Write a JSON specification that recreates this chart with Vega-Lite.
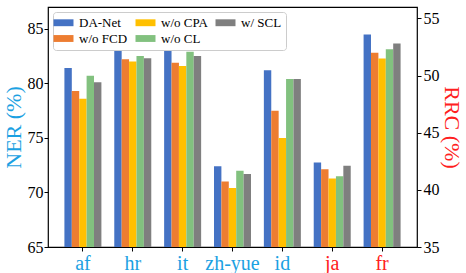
{
  "$schema": "https://vega.github.io/schema/vega-lite/v6.json",
  "width": 369,
  "height": 240,
  "autosize": {"type": "none"},
  "padding": {"left": 48, "top": 7, "right": 49, "bottom": 26},
  "background": "white",
  "config": {
    "font": "Liberation Serif",
    "view": {"stroke": "black", "strokeWidth": 1.2},
    "axis": {"grid": false, "domain": false, "tickColor": "black", "tickSize": 4, "labelColor": "black", "labelFontSize": 16, "labelFont": "Liberation Serif", "titleFont": "Liberation Serif", "titleFontWeight": "normal"}
  },
  "data": {"values": [
    {"lang": "af", "method": "DA-Net", "task": "NER", "value": 81.4},
    {"lang": "af", "method": "w/o FCD", "task": "NER", "value": 79.3},
    {"lang": "af", "method": "w/o CPA", "task": "NER", "value": 78.6},
    {"lang": "af", "method": "w/o CL", "task": "NER", "value": 80.7},
    {"lang": "af", "method": "w/ SCL", "task": "NER", "value": 80.1},
    {"lang": "hr", "method": "DA-Net", "task": "NER", "value": 83.4},
    {"lang": "hr", "method": "w/o FCD", "task": "NER", "value": 82.2},
    {"lang": "hr", "method": "w/o CPA", "task": "NER", "value": 82.0},
    {"lang": "hr", "method": "w/o CL", "task": "NER", "value": 82.5},
    {"lang": "hr", "method": "w/ SCL", "task": "NER", "value": 82.3},
    {"lang": "it", "method": "DA-Net", "task": "NER", "value": 83.2},
    {"lang": "it", "method": "w/o FCD", "task": "NER", "value": 81.9},
    {"lang": "it", "method": "w/o CPA", "task": "NER", "value": 81.6},
    {"lang": "it", "method": "w/o CL", "task": "NER", "value": 82.9},
    {"lang": "it", "method": "w/ SCL", "task": "NER", "value": 82.5},
    {"lang": "zh-yue", "method": "DA-Net", "task": "NER", "value": 72.4},
    {"lang": "zh-yue", "method": "w/o FCD", "task": "NER", "value": 71.0},
    {"lang": "zh-yue", "method": "w/o CPA", "task": "NER", "value": 70.4},
    {"lang": "zh-yue", "method": "w/o CL", "task": "NER", "value": 72.0},
    {"lang": "zh-yue", "method": "w/ SCL", "task": "NER", "value": 71.7},
    {"lang": "id", "method": "DA-Net", "task": "NER", "value": 81.2},
    {"lang": "id", "method": "w/o FCD", "task": "NER", "value": 77.5},
    {"lang": "id", "method": "w/o CPA", "task": "NER", "value": 75.0},
    {"lang": "id", "method": "w/o CL", "task": "NER", "value": 80.4},
    {"lang": "id", "method": "w/ SCL", "task": "NER", "value": 80.4},
    {"lang": "ja", "method": "DA-Net", "task": "RRC", "value": 42.4},
    {"lang": "ja", "method": "w/o FCD", "task": "RRC", "value": 41.8},
    {"lang": "ja", "method": "w/o CPA", "task": "RRC", "value": 41.0},
    {"lang": "ja", "method": "w/o CL", "task": "RRC", "value": 41.2},
    {"lang": "ja", "method": "w/ SCL", "task": "RRC", "value": 42.1},
    {"lang": "fr", "method": "DA-Net", "task": "RRC", "value": 53.6},
    {"lang": "fr", "method": "w/o FCD", "task": "RRC", "value": 52.0},
    {"lang": "fr", "method": "w/o CPA", "task": "RRC", "value": 51.5},
    {"lang": "fr", "method": "w/o CL", "task": "RRC", "value": 52.3},
    {"lang": "fr", "method": "w/ SCL", "task": "RRC", "value": 52.8}
  ]},
  "encoding": {
    "x": {
      "field": "lang", "type": "nominal",
      "sort": ["af", "hr", "it", "zh-yue", "id", "ja", "fr"],
      "scale": {"paddingInner": 0.258, "paddingOuter": 0.329},
      "axis": {"title": null, "labelAngle": 0, "labelFontSize": 20, "labelPadding": 2,
        "labelColor": {"condition": {"test": "datum.value === 'ja' || datum.value === 'fr'", "value": "#ff2020"}, "value": "#1ba1e2"}}
    },
    "xOffset": {
      "field": "method", "type": "nominal",
      "sort": ["DA-Net", "w/o FCD", "w/o CPA", "w/o CL", "w/ SCL"],
      "scale": {"paddingInner": 0, "paddingOuter": 0}
    },
    "color": {
      "field": "method", "type": "nominal",
      "scale": {
        "domain": ["DA-Net", "w/o FCD", "w/o CPA", "w/o CL", "w/ SCL"],
        "range": ["#4472C4", "#ED7D31", "#FFC000", "#82C17F", "#7F7F7F"]
      },
      "legend": {
        "title": null, "orient": "none", "legendX": 5, "legendY": 5, "columns": 3,
        "columnPadding": 7, "rowPadding": 2,
        "symbolType": "M-1.6,-0.55L1.6,-0.55L1.6,0.55L-1.6,0.55Z", "symbolSize": 156, "symbolStrokeWidth": 0,
        "labelFontSize": 13, "labelFont": "Liberation Serif", "labelOffset": 9, "labelColor": "black",
        "padding": 4, "strokeColor": "#cccccc", "fillColor": "white", "cornerRadius": 3
      }
    }
  },
  "layer": [
    {
      "transform": [{"filter": "datum.task === 'NER'"}],
      "mark": {"type": "bar", "clip": true},
      "encoding": {
        "y": {
          "field": "value", "type": "quantitative",
          "scale": {"domain": [65, 87], "zero": false, "nice": false},
          "axis": {"orient": "left", "values": [65, 70, 75, 80, 85], "title": "NER (%)", "titleColor": "#1ba1e2", "titleFontSize": 22, "titlePadding": 2, "labelPadding": 1}
        }
      }
    },
    {
      "transform": [{"filter": "datum.task === 'RRC'"}],
      "mark": {"type": "bar", "clip": true},
      "encoding": {
        "y": {
          "field": "value", "type": "quantitative",
          "scale": {"domain": [35, 56], "zero": false, "nice": false},
          "axis": {"orient": "right", "values": [35, 40, 45, 50, 55], "title": "RRC (%)", "titleColor": "#ff2020", "titleFontSize": 22, "titlePadding": 0, "labelPadding": 2}
        }
      }
    }
  ],
  "resolve": {"scale": {"y": "independent"}}
}
